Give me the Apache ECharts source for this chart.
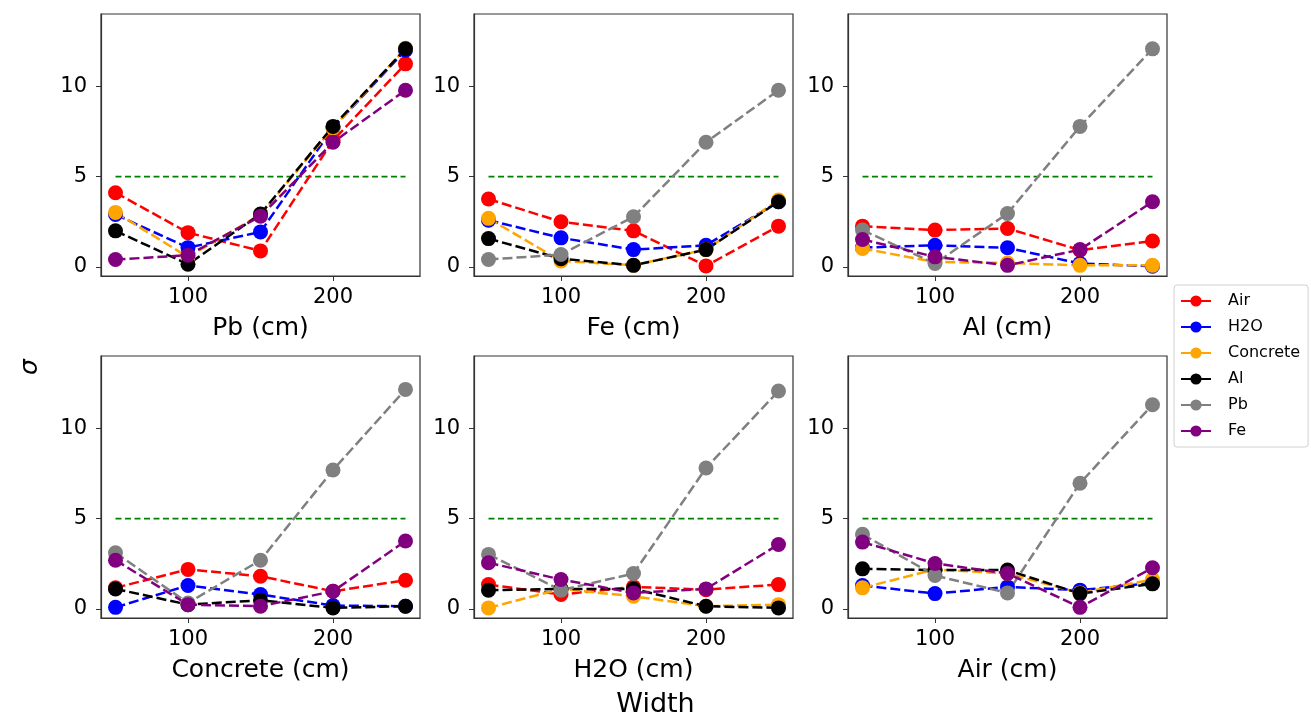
<!DOCTYPE html>
<html>
<head>
<meta charset="utf-8">
<script src="https://cdn.jsdelivr.net/npm/echarts@6/dist/echarts.min.js"></script>
<style>html,body{margin:0;padding:0;background:#fff;}#c{width:1311px;height:720px;}</style>
</head>
<body>
<div id="c"></div>
<script>
const widths = [50, 100, 150, 200, 250];
const panelNames = ['Pb', 'Fe', 'Al', 'Concrete', 'H2O', 'Air'];
const materials = ['Air', 'H2O', 'Concrete', 'Al', 'Pb', 'Fe'];
const yTicks = [0, 5, 10];
const xTicks = [100, 200];
const threshold = 5;

// sigma values per panel (panel material -> series material)
const sigmaPb = {
  Air:      [4.11, 1.90, 0.89, 7.00, 11.24],
  H2O:      [2.90, 1.07, 1.94, 7.70, 12.00],
  Concrete: [3.02, 0.55, 2.90, 7.70, 12.10],
  Al:       [2.00, 0.15, 2.93, 7.78, 12.07],
  Fe:       [0.41, 0.65, 2.81, 6.90, 9.78]
};
const sigmaFe = {
  Air:      [3.76, 2.50, 2.00, 0.06, 2.26],
  H2O:      [2.59, 1.61, 0.96, 1.20, 3.61],
  Concrete: [2.69, 0.33, 0.10, 0.96, 3.70],
  Al:       [1.57, 0.46, 0.09, 0.96, 3.61],
  Pb:       [0.41, 0.69, 2.78, 6.90, 9.78]
};
const sigmaAl = {
  Air:      [2.26, 2.04, 2.13, 0.93, 1.44],
  H2O:      [1.07, 1.20, 1.06, 0.19, 0.04],
  Concrete: [1.02, 0.28, 0.22, 0.09, 0.09],
  Pb:       [2.04, 0.19, 2.96, 7.78, 12.07],
  Fe:       [1.52, 0.56, 0.09, 0.96, 3.61]
};
const sigmaConcrete = {
  Air:      [1.17, 2.19, 1.81, 0.98, 1.59],
  H2O:      [0.09, 1.30, 0.80, 0.19, 0.15],
  Al:       [1.11, 0.24, 0.48, 0.06, 0.15],
  Pb:       [3.11, 0.33, 2.70, 7.69, 12.15],
  Fe:       [2.70, 0.24, 0.15, 0.98, 3.76]
};
const sigmaH2O = {
  Air:      [1.35, 0.80, 1.22, 1.07, 1.35],
  Concrete: [0.06, 1.11, 0.70, 0.15, 0.24],
  Al:       [1.04, 1.11, 1.11, 0.15, 0.06],
  Pb:       [3.02, 1.04, 1.96, 7.80, 12.06],
  Fe:       [2.56, 1.63, 0.89, 1.11, 3.57]
};
const sigmaAir = {
  H2O:      [1.30, 0.85, 1.22, 1.04, 1.44],
  Concrete: [1.17, 2.19, 1.96, 0.89, 1.63],
  Al:       [2.22, 2.15, 2.15, 0.85, 1.39],
  Pb:       [4.13, 1.85, 0.89, 6.96, 11.30],
  Fe:       [3.70, 2.52, 1.96, 0.09, 2.28]
};
const panelData = [sigmaPb, sigmaFe, sigmaAl, sigmaConcrete, sigmaH2O, sigmaAir];

const colors = {Air:'#ff0000', H2O:'#0000ff', Concrete:'#ffa500', Al:'#000000', Pb:'#808080', Fe:'#800080'};

const lefts = [101, 474, 848];
const tops = [14, 356];
const gw = 319, gh = 262;
const FONT = 'DejaVu Sans';

const grids = [], xAxes = [], yAxes = [], series = [];
panelNames.forEach((p, i) => {
  const col = i % 3, row = Math.floor(i / 3);
  grids.push({left: lefts[col], top: tops[row], width: gw, height: gh,
    show: true, borderColor: '#333', borderWidth: 1.2, backgroundColor: '#fff'});
  xAxes.push({type: 'value', gridIndex: i, min: 40, max: 260,
    name: p + ' (cm)', nameLocation: 'middle', nameGap: 40,
    nameTextStyle: {fontSize: 25, color: '#000', fontFamily: FONT},
    axisLine: {show: true, onZero: false, lineStyle: {color: '#333', width: 1.2}},
    axisTick: {show: true, length: 5, lineStyle: {color: '#333'}, customValues: xTicks},
    axisLabel: {fontSize: 21, color: '#000', fontFamily: FONT, margin: 11, customValues: xTicks},
    splitLine: {show: false}});
  yAxes.push({type: 'value', gridIndex: i, min: -0.5, max: 14,
    axisLine: {show: true, onZero: false, lineStyle: {color: '#333', width: 1.2}},
    axisTick: {show: true, length: 5, lineStyle: {color: '#333'}, customValues: yTicks},
    axisLabel: {fontSize: 21, color: '#000', fontFamily: FONT, margin: 14, customValues: yTicks},
    splitLine: {show: false}});
  series.push({type: 'line', xAxisIndex: i, yAxisIndex: i, symbol: 'none', silent: true,
    data: [[widths[0], threshold], [widths[widths.length - 1], threshold]],
    lineStyle: {color: '#008000', width: 1.6, type: [6, 3.5]}, animation: false});
  const d = panelData[i];
  materials.forEach(m => {
    if (!d[m]) return;
    series.push({type: 'line', name: m, xAxisIndex: i, yAxisIndex: i,
      data: widths.map((w, k) => [w, d[m][k]]),
      symbol: 'circle', symbolSize: 15,
      itemStyle: {color: colors[m]},
      lineStyle: {color: colors[m], width: 2.5, type: [10, 4]},
      animation: false});
  });
});

const chart = echarts.init(document.getElementById('c'), null, {renderer: 'canvas'});
chart.setOption({
  backgroundColor: '#fff',
  animation: false,
  grid: grids, xAxis: xAxes, yAxis: yAxes, series: series,
  legend: {
    data: materials, orient: 'vertical', left: 1174, top: 285,
    itemWidth: 30, itemHeight: 14, itemGap: 10,
    padding: [8, 8, 8, 6],
    lineStyle: {type: 'solid'},
    backgroundColor: '#fff', borderColor: '#d0d0d0', borderWidth: 1, borderRadius: 3,
    textStyle: {fontSize: 16, color: '#000', fontFamily: FONT, padding: [0, 0, 0, 12]}
  },
  graphic: [
    {type: 'text', left: 'center', top: 691, style: {text: 'Width', fontSize: 27, fill: '#000', fontFamily: FONT}},
    {type: 'text', x: 30, y: 367, rotation: Math.PI / 2,
      style: {text: 'σ', fontSize: 25, fontStyle: 'italic', fill: '#000', fontFamily: FONT,
        align: 'center', verticalAlign: 'middle'}}
  ]
});
</script>
</body>
</html>
